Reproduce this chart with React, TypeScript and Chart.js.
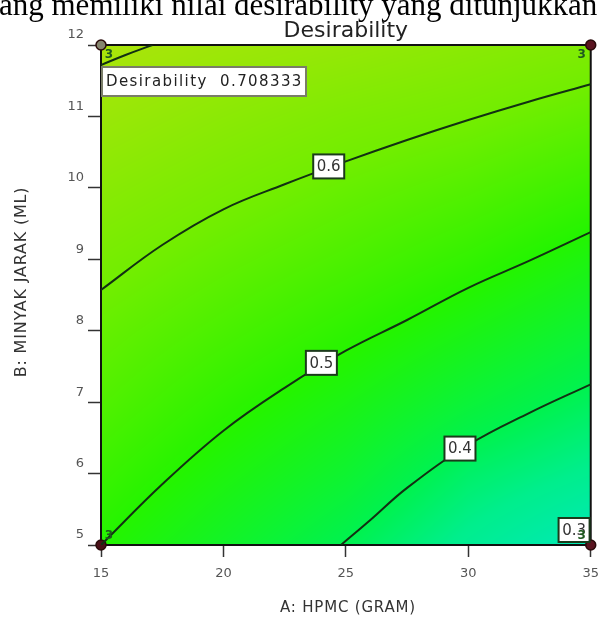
import { useEffect, useRef } from "react";
import { Chart, registerables } from "chart.js";

Chart.register(...registerables);

// ---- data ----
const xTicks = [15, 20, 25, 30, 35];
const yTicks = [5, 6, 7, 8, 9, 10, 11, 12];

// desirability at grid nodes (rows: y = 5..12, cols: x = 15..35)
const gridX = [15, 20, 25, 30, 35];
const gridY = [5, 6, 7, 8, 9, 10, 11, 12];
const gridD = [
  [0.5, 0.45, 0.4, 0.34, 0.29],
  [0.53, 0.483, 0.44, 0.38, 0.345],
  [0.56, 0.516, 0.476, 0.43, 0.39],
  [0.586, 0.55, 0.514, 0.475, 0.435],
  [0.615, 0.583, 0.553, 0.52, 0.48],
  [0.646, 0.616, 0.588, 0.563, 0.53],
  [0.678, 0.65, 0.625, 0.607, 0.58],
  [0.708, 0.685, 0.668, 0.648, 0.628],
];

// contour lines
const c07x = [15, 16, 17.1];
const c07y = [11.72, 11.86, 12.0];
const c06x = [15, 17.5, 20, 22.5, 25, 27.5, 30, 32.5, 35];
const c06y = [8.57, 9.2, 9.7, 10.05, 10.37, 10.67, 10.95, 11.21, 11.45];
const c05x = [15, 17.5, 20, 22.5, 25, 27.5, 30, 32.5, 35];
const c05y = [5.0, 5.85, 6.6, 7.2, 7.72, 8.15, 8.6, 8.98, 9.38];
const c04x = [24.8, 26, 27.5, 30, 32.5, 35];
const c04y = [5.0, 5.35, 5.8, 6.4, 6.85, 7.25];

const contourLabels = ["0.6", "0.5", "0.4", "0.3"];
const contourLabelX = [24.3, 24.0, 29.66, 34.32];
const contourLabelY = [10.3, 7.55, 6.35, 5.21];

// design points
const designX = [15, 35, 15, 35];
const designY = [12, 12, 5, 5];
const designCount = ["3", "3", "3", "3"];

const flagText = "Desirability  0.708333";
const titleText = "Desirability";
const xTitle = "A: HPMC (GRAM)";
const yTitle = "B: MINYAK JARAK (ML)";
const overflowText = "ang memiliki nilai desirability yang ditunjukkan";

// colour ramp (value -> rgb)
const rampV = [0.28, 0.35, 0.4, 0.5, 0.6, 0.71];
const rampC = [
  [0, 232, 190],
  [0, 238, 140],
  [0, 242, 80],
  [36, 244, 0],
  [112, 238, 0],
  [172, 228, 10],
];

function interpD(xv: number, yv: number) {
  let i = 0;
  while (i < gridX.length - 2 && xv > gridX[i + 1]) i++;
  let j = 0;
  while (j < gridY.length - 2 && yv > gridY[j + 1]) j++;
  const tx = Math.min(1, Math.max(0, (xv - gridX[i]) / (gridX[i + 1] - gridX[i])));
  const ty = Math.min(1, Math.max(0, (yv - gridY[j]) / (gridY[j + 1] - gridY[j])));
  const a = gridD[j][i], b = gridD[j][i + 1], c = gridD[j + 1][i], d = gridD[j + 1][i + 1];
  return a * (1 - tx) * (1 - ty) + b * tx * (1 - ty) + c * (1 - tx) * ty + d * tx * ty;
}

function colorFor(v: number) {
  if (v <= rampV[0]) return rampC[0];
  for (let k = 0; k < rampV.length - 1; k++) {
    if (v <= rampV[k + 1]) {
      const t = (v - rampV[k]) / (rampV[k + 1] - rampV[k]);
      return [0, 1, 2].map((n) => rampC[k][n] + (rampC[k + 1][n] - rampC[k][n]) * t);
    }
  }
  return rampC[rampC.length - 1];
}

const FONT = "'DejaVu Sans', sans-serif";

const bgPlugin = {
  id: "bgField",
  beforeDatasetsDraw(chart: any) {
    const { ctx, chartArea: a, scales } = chart;
    const xs = scales.x, ys = scales.y;
    const w = Math.round(a.right - a.left);
    const h = Math.round(a.bottom - a.top);
    const off = document.createElement("canvas");
    off.width = w;
    off.height = h;
    const octx = off.getContext("2d")!;
    const img = octx.createImageData(w, h);
    for (let j = 0; j < h; j++) {
      const yv = ys.getValueForPixel(a.top + j + 0.5);
      for (let i = 0; i < w; i++) {
        const xv = xs.getValueForPixel(a.left + i + 0.5);
        const c = colorFor(interpD(xv, yv));
        const p = (j * w + i) * 4;
        img.data[p] = c[0];
        img.data[p + 1] = c[1];
        img.data[p + 2] = c[2];
        img.data[p + 3] = 255;
      }
    }
    octx.putImageData(img, 0, 0);
    ctx.save();
    ctx.drawImage(off, a.left, a.top, w, h);
    ctx.strokeStyle = "#111";
    ctx.lineWidth = 2;
    ctx.strokeRect(a.left, a.top, a.right - a.left, a.bottom - a.top);
    ctx.restore();
  },
};

const labelPlugin = {
  id: "labels",
  afterDatasetsDraw(chart: any) {
    const { ctx, scales } = chart;
    const xs = scales.x, ys = scales.y;
    ctx.save();
    // contour labels
    ctx.font = `15px ${FONT}`;
    ctx.textAlign = "center";
    ctx.textBaseline = "middle";
    contourLabels.forEach((t, k) => {
      const px = xs.getPixelForValue(contourLabelX[k]);
      const py = ys.getPixelForValue(contourLabelY[k]);
      const bw = 31, bh = 24;
      ctx.fillStyle = "#fff";
      ctx.fillRect(px - bw / 2, py - bh / 2, bw, bh);
      ctx.strokeStyle = "#1b3a1b";
      ctx.lineWidth = 2;
      ctx.strokeRect(px - bw / 2, py - bh / 2, bw, bh);
      ctx.fillStyle = "#333";
      ctx.fillText(t, px, py + 1);
    });
    // replicate counts
    ctx.font = `bold 12px ${FONT}`;
    ctx.fillStyle = "#1f5a1f";
    designX.forEach((xv, k) => {
      const px = xs.getPixelForValue(xv);
      const py = ys.getPixelForValue(designY[k]);
      const dx = xv === xTicks[0] ? 8 : -9;
      const dy = designY[k] === yTicks[yTicks.length - 1] ? 10 : -9;
      ctx.fillText(designCount[k], px + dx, py + dy);
    });
    // flag
    const fx = xs.getPixelForValue(15) + 1;
    const fy = ys.getPixelForValue(12) + 22;
    ctx.fillStyle = "#fff";
    ctx.fillRect(fx, fy, 204, 29);
    ctx.strokeStyle = "#7a7d68";
    ctx.lineWidth = 2;
    ctx.strokeRect(fx, fy, 204, 29);
    ctx.fillStyle = "#222";
    ctx.textAlign = "left";
    ctx.font = `15px ${FONT}`;
    (ctx as any).letterSpacing = "1.4px";
    ctx.fillText(flagText, fx + 4, fy + 15);
    (ctx as any).letterSpacing = "0px";
    ctx.restore();
  },
  afterDraw(chart: any) {
    const { ctx, chartArea: a } = chart;
    ctx.save();
    // cut-off running text above the figure
    ctx.fillStyle = "#000";
    ctx.textAlign = "left";
    ctx.textBaseline = "alphabetic";
    ctx.font = "31px 'Liberation Serif', serif";
    ctx.fillText(overflowText, -1, 15);
    ctx.fillStyle = "#222";
    ctx.textAlign = "center";
    ctx.font = `22px ${FONT}`;
    ctx.fillText(titleText, (a.left + a.right) / 2, 37);
    ctx.fillStyle = "#333";
    ctx.font = `15px ${FONT}`;
    (ctx as any).letterSpacing = "0.8px";
    ctx.fillText(xTitle, 348, 612);
    ctx.translate(26, 282);
    ctx.rotate(-Math.PI / 2);
    ctx.font = `16px ${FONT}`;
    (ctx as any).letterSpacing = "0.8px";
    ctx.fillText(yTitle, 0, 0);
    ctx.restore();
  },
};

export default function App() {
  const ref = useRef<HTMLCanvasElement>(null);
  useEffect(() => {
    const line = (xs: number[], ys: number[]) => ({
      type: "line" as const,
      data: xs.map((x, i) => ({ x, y: ys[i] })),
      borderColor: "#123012",
      borderWidth: 2,
      pointRadius: 0,
      tension: 0.4,
      fill: false,
    });
    const chart = new Chart(ref.current!, {
      type: "scatter",
      data: {
        datasets: [
          line(c07x, c07y),
          line(c06x, c06y),
          line(c05x, c05y),
          line(c04x, c04y),
          {
            type: "scatter",
            data: designX.map((x, i) => ({ x, y: designY[i] })),
            pointRadius: 5,
            pointBackgroundColor: ["#85856e", "#5a1420", "#4a1018", "#5a1420"],
            pointBorderColor: "#2a0a0a",
            pointBorderWidth: 1.5,
            clip: false,
          } as any,
        ],
      },
      options: {
        responsive: false,
        animation: false,
        layout: { padding: { top: 45, right: 9, left: 0, bottom: 0 } },
        plugins: { legend: { display: false }, tooltip: { enabled: false }, title: { display: false } },
        scales: {
          x: {
            type: "linear",
            min: 15,
            max: 35,
            afterBuildTicks: (s: any) => {
              s.ticks = xTicks.map((v) => ({ value: v }));
            },
            afterFit: (s: any) => {
              s.height = 72;
            },
            grid: { drawOnChartArea: false, drawTicks: true, tickLength: 12, color: "#333", tickWidth: 1.5 },
            border: { display: false },
            ticks: { color: "#555", font: { family: "DejaVu Sans", size: 13 }, padding: 9, maxRotation: 0 },
          },
          y: {
            type: "linear",
            min: 5,
            max: 12,
            afterBuildTicks: (s: any) => {
              s.ticks = yTicks.map((v) => ({ value: v }));
            },
            afterFit: (s: any) => {
              s.width = 101;
            },
            grid: { drawOnChartArea: false, drawTicks: true, tickLength: 13, color: "#333", tickWidth: 1.5 },
            border: { display: false },
            ticks: { color: "#555", font: { family: "DejaVu Sans", size: 13 }, padding: 4, labelOffset: -10 },
          },
        },
      },
      plugins: [bgPlugin, labelPlugin],
    });
    return () => chart.destroy();
  }, []);
  return (
    <div style={{ position: "fixed", left: 0, top: 0, width: 608, height: 617, overflow: "hidden", background: "#fff" }}>
      <canvas ref={ref} width={608} height={617} style={{ position: "absolute", left: 0, top: 0 }} />
    </div>
  );
}
